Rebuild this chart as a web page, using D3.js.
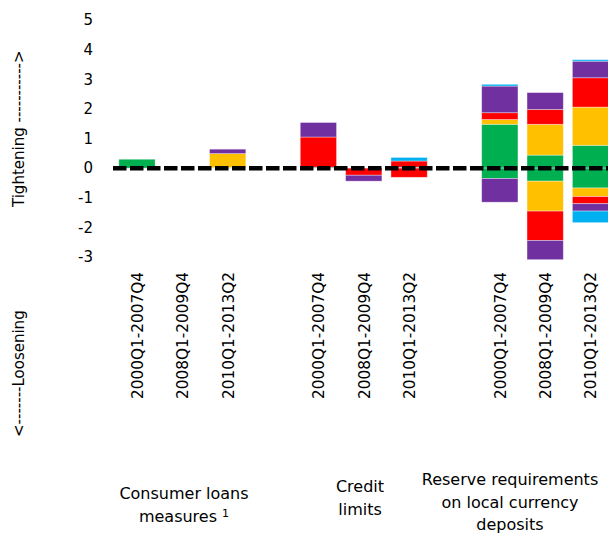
<!DOCTYPE html>
<html>
<head>
<meta charset="utf-8">
<script src="https://cdn.jsdelivr.net/npm/d3@7"></script>
<style>
  body { margin: 0; background: #fff; }
  svg { display: block; font-family: "DejaVu Sans", Verdana, sans-serif; }
</style>
</head>
<body>
<svg id="chart" width="608" height="534"></svg>
<script>
// periods repeated under each instrument group
const periods = ["2000Q1-2007Q4", "2008Q1-2009Q4", "2010Q1-2013Q2"];
const groups = [
  ["Consumer loans", "measures"],
  ["Credit", "limits"],
  ["Reserve requirements", "on local currency", "deposits"],
];
const yTicks = [-3, -2, -1, 0, 1, 2, 3, 4, 5];

// one entry per bar (3 groups x 3 periods)
const greenUp = [0.3, 0, 0.02, 0.03, 0, 0.03, 1.48, 0.44, 0.77];
const yellowUp = [0, 0, 0.47, 0, 0, 0, 0.16, 1.04, 1.29];
const redUp = [0, 0, 0, 1.02, 0, 0.21, 0.23, 0.5, 0.99];
const purpleUp = [0, 0, 0.15, 0.49, 0, 0, 0.9, 0.57, 0.56];
const cyanUp = [0, 0, 0, 0, 0, 0.12, 0.06, 0, 0.05];

const greenDown = [0, 0, 0, 0, 0, 0, -0.35, -0.44, -0.67];
const yellowDown = [0, 0, 0, 0, 0, 0, 0, -1.01, -0.29];
const redDown = [0, 0, 0, 0, -0.24, -0.31, 0, -0.99, -0.24];
const purpleDown = [0, 0, 0, 0, -0.2, 0, -0.8, -0.65, -0.25];
const cyanDown = [0, 0, 0, 0, 0, 0, 0, 0, -0.39];

const colors = {
  green: "#00B050",
  yellow: "#FFC000",
  red: "#FF0000",
  purple: "#7030A0",
  cyan: "#00B0F0",
};

const series = {
  greenUp, yellowUp, redUp, purpleUp, cyanUp,
  greenDown, yellowDown, redDown, purpleDown, cyanDown,
};
const keys = Object.keys(series);

// slots: bars plus an empty slot between groups
const slots = [];
const rows = [];
groups.forEach((g, gi) => {
  if (gi > 0) slots.push("gap" + gi);
  periods.forEach((p, pi) => {
    const id = gi + "-" + pi;
    slots.push(id);
    const i = gi * periods.length + pi;
    const row = { id: id, period: p };
    keys.forEach((k) => (row[k] = series[k][i]));
    rows.push(row);
  });
});

const svg = d3.select("#chart");

const x = d3
  .scaleBand()
  .domain(slots)
  .range([114.3, 613.2])
  .paddingInner(0.2)
  .paddingOuter(0.1);

const y = d3.scaleLinear().domain([-3, 5]).range([257, 20]);

const stacked = d3.stack().keys(keys).offset(d3.stackOffsetDiverging)(rows);

// bars
svg
  .append("g")
  .selectAll("g")
  .data(stacked)
  .join("g")
  .attr("fill", (s) => colors[s.key.replace(/Up|Down/, "")])
  .selectAll("rect")
  .data((s) => s.filter((d) => d[1] !== d[0]))
  .join("rect")
  .attr("x", (d) => x(d.data.id))
  .attr("width", x.bandwidth())
  .attr("y", (d) => y(d[1]))
  .attr("height", (d) => y(d[0]) - y(d[1]))
  .attr("stroke", "#fff")
  .attr("stroke-opacity", 0.45)
  .attr("stroke-width", 0.8);

// dashed zero line
svg
  .append("line")
  .attr("x1", 113)
  .attr("x2", 608)
  .attr("y1", y(0))
  .attr("y2", y(0))
  .attr("stroke", "#000")
  .attr("stroke-width", 4.5)
  .attr("stroke-dasharray", "13.5,3.5");

// y axis (labels only)
const yAxis = svg
  .append("g")
  .attr("transform", "translate(93,0)")
  .call(d3.axisLeft(y).tickValues(yTicks).tickSize(0).tickPadding(0).tickFormat((d) => String(d)));
yAxis.select(".domain").remove();
yAxis.selectAll("text").attr("font-size", 15).attr("font-family", "DejaVu Sans").attr("fill", "#000");

// period labels
const xAxis = svg
  .append("g")
  .attr("transform", "translate(0,272)")
  .call(
    d3
      .axisBottom(x)
      .tickSize(0)
      .tickFormat((s) => {
        const r = rows.find((d) => d.id === s);
        return r ? r.period : "";
      })
  );
xAxis.select(".domain").remove();
xAxis
  .selectAll("text")
  .attr("transform", "rotate(-90)")
  .attr("x", 0)
  .attr("y", 0.5)
  .attr("dy", "0.35em")
  .attr("font-size", 15.3)
  .attr("font-family", "DejaVu Sans")
  .attr("fill", "#000")
  .style("text-anchor", "end");

// axis titles
svg
  .append("text")
  .attr("transform", "translate(19,207) rotate(-90)")
  .attr("dy", "0.35em")
  .attr("font-size", 15)
  .text("Tightening ----------->");

svg
  .append("text")
  .attr("transform", "translate(19,437) rotate(-90)")
  .attr("dy", "0.35em")
  .attr("font-size", 15)
  .text("<-------Loosening");

// group labels
const groupLabelX = [184, 360, 510];
const groupLabelY = [499, 492, 485];
groups.forEach((lines, gi) => {
  const t = svg
    .append("text")
    .attr("text-anchor", "middle")
    .attr("font-size", 16)
    .attr("fill", "#000");
  lines.forEach((line, li) => {
    const ts = t
      .append("tspan")
      .attr("x", groupLabelX[gi])
      .attr("y", groupLabelY[gi] + li * 22.5)
      .text(line);
    if (gi === 0 && li === 1) {
      ts.text(line + " ");
      t.append("tspan").attr("font-size", 11).attr("dy", -5).text("1");
    }
  });
});
</script>
</body>
</html>
